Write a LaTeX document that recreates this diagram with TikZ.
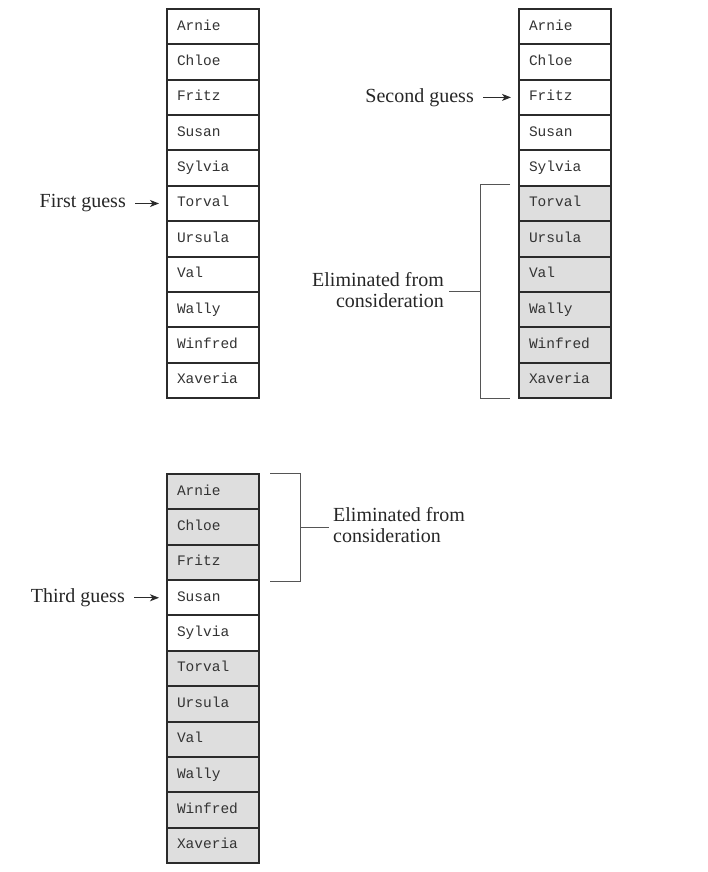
\documentclass[tikz,border=0pt]{standalone}
\usepackage{fontspec}
\setmainfont{Liberation Serif}
\setmonofont{Liberation Mono}
\usetikzlibrary{arrows.meta,calc}
\definecolor{boxline}{HTML}{2B2B2B}
\definecolor{shade}{HTML}{DEDEDE}
\definecolor{brk}{HTML}{555555}
\definecolor{celltext}{HTML}{333333}
\begin{document}
\begin{tikzpicture}[x=1pt,y=-1pt,
  cell/.style={draw=boxline, line width=2pt, minimum width=92pt, minimum height=35.36pt,
    text width=72pt, inner xsep=10pt, inner ysep=0pt, align=left,
    text height=10pt, text depth=3pt, text=celltext,
    font=\ttfamily\fontsize{14.5}{17}\selectfont, anchor=north west},
  lbl/.style={inner sep=0pt, font=\fontsize{20}{21}\selectfont, text=black!85},
  arr/.style={line width=1pt, draw=boxline, -{Stealth[length=9pt,width=7pt,inset=2.5pt]},
    shorten <=9pt, shorten >=7pt},
  brack/.style={draw=brk, line width=1pt}]
\useasboundingbox (0,0) rectangle (707,872);
\foreach \n/\fb/\fc [count=\i] in {Arnie/white/shade, Chloe/white/shade, Fritz/white/shade,
  Susan/white/white, Sylvia/white/white, Torval/shade/shade, Ursula/shade/shade,
  Val/shade/shade, Wally/shade/shade, Winfred/shade/shade, Xaveria/shade/shade}{
  \node[cell, fill=white] (a\i) at (166,{8+35.36*(\i-1)}) {\n};
  \node[cell, fill=\fb] (b\i) at (518,{8+35.36*(\i-1)}) {\n};
  \node[cell, fill=\fc] (c\i) at (166,{473+35.36*(\i-1)}) {\n};
}
% guesses
\node[lbl, anchor=east] (g1) at ([xshift=-40pt]a6.west) {First guess};
\draw[arr] (g1.east) -- (a6.west);
\node[lbl, anchor=east] (g2) at ([xshift=-44pt]b3.west) {Second guess};
\draw[arr] (g2.east) -- (b3.west);
\node[lbl, anchor=east] (g3) at ([xshift=-41pt]c4.west) {Third guess};
\draw[arr] (g3.east) -- (c4.west);
% bracket for second column
\coordinate (bt) at ([xshift=-8pt]b6.north west);
\coordinate (bb) at ([xshift=-8pt]b11.south west);
\coordinate (bm) at ($(bt)!0.5!(bb)+(-30,0)$);
\draw[brack] (bt) -- ++(-30,0) -- ($(bb)+(-30,0)$) -- (bb);
\node[lbl, anchor=east, align=right] (e1) at ($(bm)+(-36,-2)$) {Eliminated from\\consideration};
\draw[brack] (bm) -- ([xshift=5pt]e1.east |- bm);
% bracket for third column
\coordinate (ct) at ([xshift=10pt]c1.north east);
\coordinate (cb) at ([xshift=10pt]c3.south east);
\coordinate (cm) at ($(ct)!0.5!(cb)+(30,0)$);
\draw[brack] (ct) -- ++(30,0) -- ($(cb)+(30,0)$) -- (cb);
\node[lbl, anchor=west, align=left] (e2) at ($(cm)+(33,-2)$) {Eliminated from\\consideration};
\draw[brack] (cm) -- ([xshift=-4pt]e2.west |- cm);
\end{tikzpicture}
\end{document}
